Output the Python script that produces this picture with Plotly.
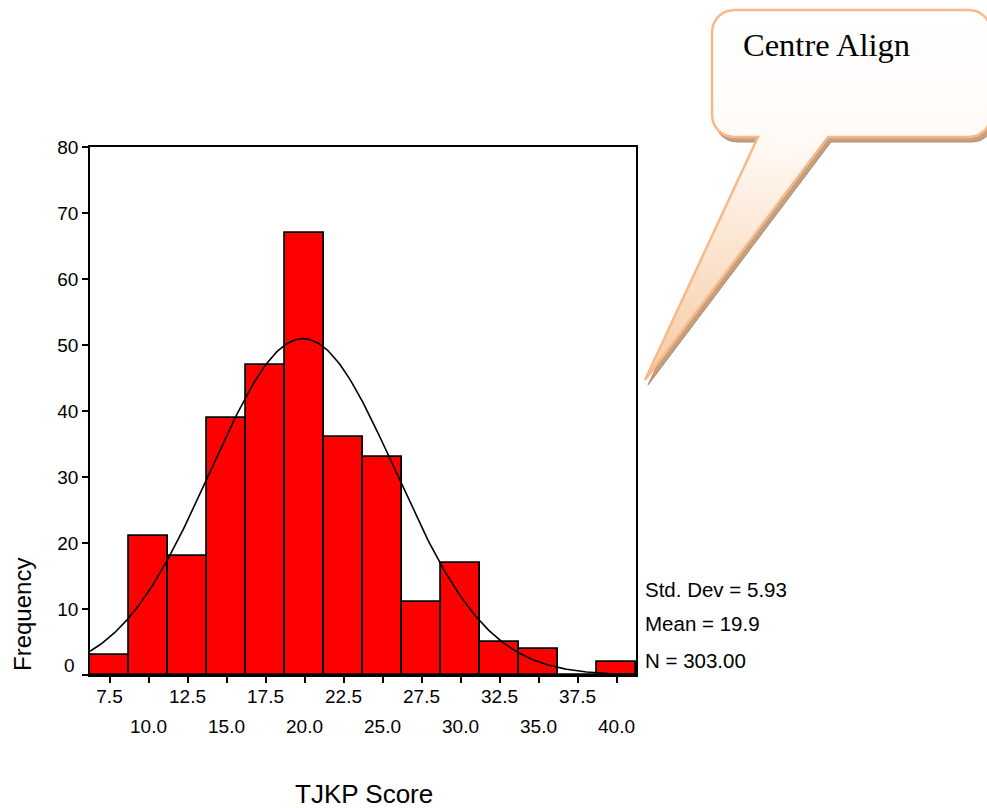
import numpy as np
import plotly.graph_objects as go

# ---- data ----
bin_centers = [7.5, 10.0, 12.5, 15.0, 17.5, 20.0, 22.5, 25.0, 27.5, 30.0, 32.5, 35.0, 37.5, 40.0]
frequencies = [3, 21, 18, 39, 47, 67, 36, 33, 11, 17, 5, 4, 0, 2]
bin_width = 2.5
std_dev = 5.93
mean_val = 19.9
n_total = 303

x_row1_vals = [7.5, 12.5, 17.5, 22.5, 27.5, 32.5, 37.5]
x_row1_text = ["7.5", "12.5", "17.5", "22.5", "27.5", "32.5", "37.5"]
x_row2_vals = [10.0, 15.0, 20.0, 25.0, 30.0, 35.0, 40.0]
x_row2_text = ["10.0", "15.0", "20.0", "25.0", "30.0", "35.0", "40.0"]
y_tick_vals = [10, 20, 30, 40, 50, 60, 70, 80]
y_tick_text = ["10", "20", "30", "40", "50", "60", "70", "80"]

stats_lines = ["Std. Dev = 5.93", "Mean = 19.9", "N = 303.00"]
x_title = "TJKP Score"
y_title = "Frequency"
callout_text = "Centre Align"

W, H = 987, 808
PL, PR, PT, PB = 90, 636, 147, 675  # plot area in pixels

fig = go.Figure()

# histogram bars
fig.add_trace(go.Bar(
    x=bin_centers, y=frequencies, width=bin_width,
    marker=dict(color="#ff0000", line=dict(color="black", width=1.8)),
    xaxis="x", yaxis="y", showlegend=False, hoverinfo="skip"))

# fitted normal curve from the stated mean / sd / N
xs = np.linspace(6.25, 41.25, 300)
ys = n_total * bin_width / (std_dev * np.sqrt(2 * np.pi)) * np.exp(-0.5 * ((xs - mean_val) / std_dev) ** 2)
fig.add_trace(go.Scatter(x=xs, y=ys, mode="lines", line=dict(color="black", width=1.6),
                         xaxis="x", yaxis="y", showlegend=False, hoverinfo="skip"))

# ---- callout bubble (pixel coordinates on a full-figure overlay axis) ----
def bubble(dx=0.0, dy=0.0):
    left, right, top, bot, r = 712, 991, 10, 137, 22
    tip = (645, 380)
    pts = [tip, (828, 137)]
    def arc(cx, cy, a0, a1):
        return [(cx + r * np.cos(t), cy + r * np.sin(t)) for t in np.linspace(a0, a1, 12)]
    pts += [(right - r, bot)]
    pts += arc(right - r, bot - r, np.pi / 2, 0)
    pts += [(right, top + r)]
    pts += arc(right - r, top + r, 0, -np.pi / 2)
    pts += [(left + r, top)]
    pts += arc(left + r, top + r, -np.pi / 2, -np.pi)
    pts += [(left, bot - r)]
    pts += arc(left + r, bot - r, np.pi, np.pi / 2)
    pts += [(758, 137), tip]
    return [p[0] + dx for p in pts], [p[1] + dy for p in pts]

sx, sy = bubble(3, 5)
fig.add_trace(go.Scatter(x=sx, y=sy, mode="lines", fill="toself", fillcolor="#c4a080",
                         line=dict(color="#b08a68", width=1), xaxis="x2", yaxis="y2",
                         showlegend=False, hoverinfo="skip"))
bx, by = bubble()
fig.add_trace(go.Scatter(x=bx, y=by, mode="lines", fill="toself",
                         fillgradient=dict(type="vertical",
                                           colorscale=[[0, "#ffffff"], [0.35, "#fffaf6"], [1, "#f7cba2"]],
                                           start=10, stop=380),
                         line=dict(color="#f7b98a", width=2.5), xaxis="x2", yaxis="y2",
                         showlegend=False, hoverinfo="skip"))

font_sans = "Liberation Sans, Arial, sans-serif"

fig.update_layout(
    width=W, height=H, margin=dict(l=0, r=0, t=0, b=0, autoexpand=False),
    paper_bgcolor="white", plot_bgcolor="rgba(0,0,0,0)",
    bargap=0,
    font=dict(family=font_sans, size=19, color="black"),
    xaxis=dict(domain=[PL / W, PR / W], range=[6.25, 41.25], anchor="y",
               tickmode="array", tickvals=x_row1_vals + x_row2_vals,
               ticktext=x_row1_text + [""] * len(x_row2_vals),
               ticks="outside", ticklen=6, tickwidth=1.5, tickcolor="black",
               ticklabelstandoff=-3,
               showline=True, linecolor="black", linewidth=1.5, mirror=True,
               showgrid=False, zeroline=False, tickfont=dict(size=19), automargin=False),
    xaxis3=dict(overlaying="x", matches="x", anchor="y", side="bottom",
                tickmode="array", tickvals=x_row2_vals, ticktext=x_row2_text,
                ticks="", showline=False, showgrid=False, zeroline=False,
                ticklabelstandoff=38, tickfont=dict(size=19), automargin=False),
    yaxis=dict(domain=[(H - PB) / H, (H - PT) / H], range=[0, 80], anchor="x",
               tickmode="array", tickvals=[0] + y_tick_vals, ticktext=[""] + y_tick_text,
               ticks="outside", ticklen=6, tickwidth=1.5, tickcolor="black",
               showline=True, linecolor="black", linewidth=1.5, mirror=True,
               showgrid=False, zeroline=False, tickfont=dict(size=19), automargin=False),
    xaxis2=dict(domain=[0, 1], range=[0, W], anchor="y2", visible=False, fixedrange=True),
    yaxis2=dict(domain=[0, 1], range=[H, 0], anchor="x2", visible=False, fixedrange=True),
)

# dummy trace to activate xaxis3
fig.add_trace(go.Scatter(x=[bin_centers[0]], y=[0], xaxis="x3", yaxis="y", mode="markers",
                         marker=dict(opacity=0), showlegend=False, hoverinfo="skip"))

annotations = []
# y "0" label sits slightly above its tick, as in the reference
annotations.append(dict(x=6.25, y=0, xref="x", yref="y", text="0", showarrow=False,
                        xanchor="right", yanchor="middle", xshift=-13, yshift=10,
                        font=dict(size=19, family=font_sans)))
stat_y = [589, 623, 660]
for txt, yy in zip(stats_lines, stat_y):
    annotations.append(dict(x=643, y=yy, xref="x2", yref="y2", text=txt, showarrow=False,
                            xanchor="left", yanchor="middle",
                            font=dict(size=20.5, family=font_sans)))
annotations.append(dict(x=364, y=794, xref="x2", yref="y2", text=x_title, showarrow=False,
                        xanchor="center", yanchor="middle", font=dict(size=26, family=font_sans)))
annotations.append(dict(x=22, y=615, xref="x2", yref="y2", text=y_title, showarrow=False,
                        textangle=-90, xanchor="center", yanchor="middle",
                        font=dict(size=24, family=font_sans)))
annotations.append(dict(x=741, y=45, xref="x2", yref="y2", text=callout_text, showarrow=False,
                        xanchor="left", yanchor="middle",
                        font=dict(size=32.5, family="Liberation Serif, Times New Roman, serif")))
fig.update_layout(annotations=annotations)

fig.write_html("out.html", config={"displayModeBar": False},
               post_script="document.body.style.margin='0px';document.body.style.overflow='hidden';")
